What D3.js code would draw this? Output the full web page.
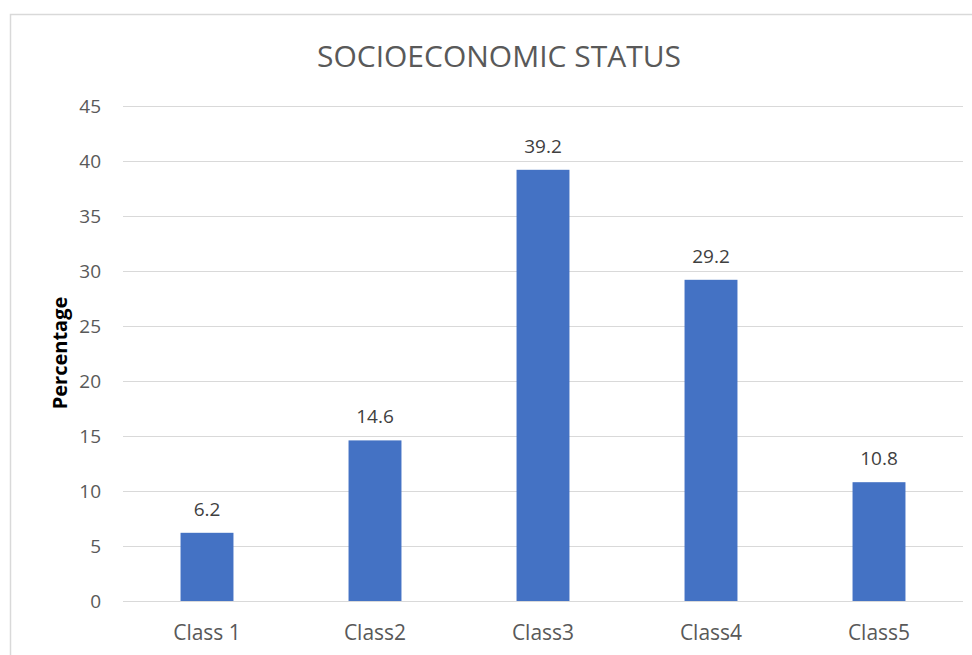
<!DOCTYPE html>
<html>
<head>
<meta charset="utf-8">
<script src="https://cdn.jsdelivr.net/npm/d3@7/dist/d3.min.js"></script>
<style>
  html, body { margin: 0; padding: 0; background: #fff; }
  svg { display: block; font-family: 'Open Sans', sans-serif; }
</style>
</head>
<body>
<svg id="chart" width="972" height="655"></svg>
<script>
(function() {
    'use strict';

    // 数据
    var categories = ['Class 1', 'Class2', 'Class3', 'Class4', 'Class5'];
    var values = [6.2, 14.6, 39.2, 29.2, 10.8];
    var yTicks = [0, 5, 10, 15, 20, 25, 30, 35, 40, 45];

    var svg = d3.select('#chart');

    // 外框
    svg.append('path')
        .attr('d', 'M10.5,660 V14.5 H980')
        .attr('fill', 'none')
        .attr('stroke', '#d9d9d9')
        .attr('stroke-width', 1.5);

    var left = 123, right = 963, top = 106, bottom = 601;

    var x = d3.scaleBand().domain(categories).range([left, right]).paddingInner(0.685).paddingOuter(0.3425);
    var y = d3.scaleLinear().domain([0, 45]).range([bottom, top]);

    // 网格
    svg.append('g').selectAll('line')
        .data(yTicks).enter().append('line')
        .attr('x1', left).attr('x2', right)
        .attr('y1', function(d) { return Math.round(y(d)) + 0.5; })
        .attr('y2', function(d) { return Math.round(y(d)) + 0.5; })
        .attr('stroke', '#d9d9d9')
        .attr('stroke-width', 1);

    // y 轴刻度
    svg.append('g').selectAll('text')
        .data(yTicks).enter().append('text')
        .attr('x', 101)
        .attr('y', function(d) { return y(d); })
        .attr('dy', '0.36em')
        .attr('text-anchor', 'end')
        .attr('font-size', '19px')
        .attr('fill', '#595959')
        .text(function(d) { return d; });

    // 柱子
    svg.append('g').selectAll('rect')
        .data(values).enter().append('rect')
        .attr('x', function(d, i) { return x(categories[i]); })
        .attr('width', x.bandwidth())
        .attr('y', function(d) { return y(d); })
        .attr('height', function(d) { return bottom - y(d); })
        .attr('fill', '#4472c4');

    // 数据标签
    svg.append('g').selectAll('text')
        .data(values).enter().append('text')
        .attr('x', function(d, i) { return x(categories[i]) + x.bandwidth() / 2; })
        .attr('y', function(d) { return y(d) - 17; })
        .attr('text-anchor', 'middle')
        .attr('font-size', '19px')
        .attr('fill', '#404040')
        .text(function(d) { return d; });

    // x 轴标签
    svg.append('g').selectAll('text')
        .data(categories).enter().append('text')
        .attr('x', function(d) { return x(d) + x.bandwidth() / 2; })
        .attr('y', 640)
        .attr('text-anchor', 'middle')
        .attr('font-size', '21px')
        .attr('fill', '#595959')
        .text(function(d) { return d; });

    // 标题
    svg.append('text')
        .attr('x', 499).attr('y', 67)
        .attr('text-anchor', 'middle')
        .attr('font-size', '30px')
        .attr('fill', '#595959')
        .text('SOCIOECONOMIC STATUS');

    // y 轴标题
    svg.append('text')
        .attr('transform', 'translate(67,353) rotate(-90)')
        .attr('text-anchor', 'middle')
        .attr('font-size', '20px')
        .attr('font-weight', 'bold')
        .attr('fill', '#000')
        .text('Percentage');
})();
</script>
</body>
</html>
